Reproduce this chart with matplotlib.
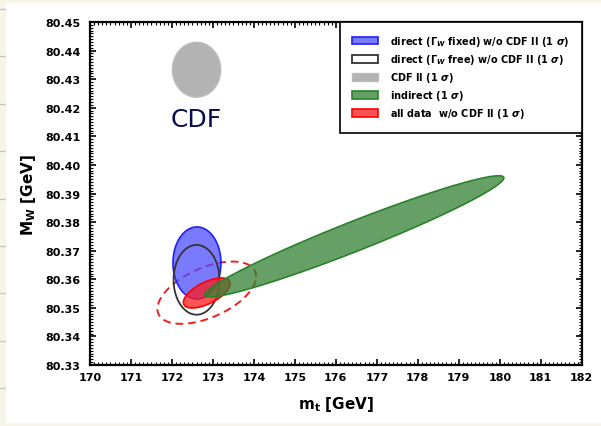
import numpy as np
import matplotlib
matplotlib.use("Agg")
import matplotlib.pyplot as plt
from matplotlib.patches import Patch, Rectangle

plt.rcParams["font.family"] = "DejaVu Sans"
plt.rcParams["font.weight"] = "bold"
plt.rcParams["mathtext.fontset"] = "custom"
plt.rcParams["mathtext.rm"] = "DejaVu Sans:bold"
plt.rcParams["mathtext.it"] = "DejaVu Sans:bold:italic"
plt.rcParams["mathtext.bf"] = "DejaVu Sans:bold"

# 1 sigma regions: (mt centre, mt sigma, MW centre, MW sigma, correlation)
labels = [
    r"direct ($\Gamma_W$ fixed) w/o CDF II (1 $\sigma$)",
    r"direct ($\Gamma_W$ free) w/o CDF II (1 $\sigma$)",
    r"CDF II (1 $\sigma$)",
    r"indirect (1 $\sigma$)",
    r"all data  w/o CDF II (1 $\sigma$)",
]
mt_center = [172.61, 172.60, 172.60, 176.45, 172.85]
mt_sigma = [0.585, 0.56, 0.59, 3.65, 0.57]
mw_center = [80.3657, 80.3598, 80.4333, 80.3750, 80.3552]
mw_sigma = [0.0126, 0.0122, 0.0096, 0.0212, 0.00525]
corr = [0.0, 0.0, 0.0, 0.965, 0.62]

# the wider dashed red region (all data, larger CL)
dash_mt, dash_mt_sig = 172.85, 1.205
dash_mw, dash_mw_sig = 80.3553, 0.0109
dash_corr = 0.52


def ellipse(cx, sx, cy, sy, rho, n=300):
    t = np.linspace(0, 2 * np.pi, n)
    x = cx + sx * np.cos(t)
    y = cy + sy * (rho * np.cos(t) + np.sqrt(1 - rho ** 2) * np.sin(t))
    return x, y


fig = plt.figure(figsize=(6.01, 4.27), dpi=100, facecolor="#f7f5e8")
# white sheet with notebook lines at the left edge
fig.patches.append(Rectangle((6 / 601, 3 / 427), 595 / 601, 420 / 427,
                             transform=fig.transFigure, facecolor="white",
                             edgecolor="none", zorder=-10))
for yy in [10, 57, 105, 152, 200, 247, 294, 342, 389]:
    fig.lines.append(plt.Line2D([0, 6 / 601], [1 - yy / 427, 1 - yy / 427],
                                transform=fig.transFigure, color="#c9c9c9",
                                lw=1, zorder=-10))

ax = fig.add_axes([90 / 601, 1 - 366 / 427, 491.7 / 601, 343 / 427])

styles = [
    dict(facecolor=(0.3, 0.3, 1.0, 0.75), edgecolor="#2020ff", lw=1.2, zorder=2),
    dict(facecolor="none", edgecolor="#333333", lw=1.3, zorder=3),
    dict(facecolor="#b3b3b3", edgecolor="#bdbdbd", lw=1.0, zorder=3),
    dict(facecolor=(0.2, 0.5, 0.2, 0.75), edgecolor="#2a822a", lw=1.2, zorder=5),
    dict(facecolor=(1.0, 0.1, 0.1, 0.75), edgecolor="#ff0000", lw=1.2, zorder=4),
]

x, y = ellipse(dash_mt, dash_mt_sig, dash_mw, dash_mw_sig, dash_corr)
ax.plot(x, y, color="#ee2020", lw=1.4, ls=(0, (4, 2.5)), zorder=1)

for i in range(len(labels)):
    x, y = ellipse(mt_center[i], mt_sigma[i], mw_center[i], mw_sigma[i], corr[i])
    ax.fill(x, y, **styles[i])

ax.text(172.6, 80.4162, "CDF", color="#0b0b4a", fontsize=18, fontweight="normal",
        ha="center", va="center")

ax.set_xlim(170, 182)
ax.set_ylim(80.33, 80.45)
ax.set_xticks(np.arange(170, 183, 1))
ax.set_yticks(np.arange(80.33, 80.4501, 0.01))
ax.set_yticklabels(["%.2f" % v for v in np.arange(80.33, 80.4501, 0.01)])
ax.set_xticks(np.arange(170, 182.01, 0.1), minor=True)
ax.set_yticks(np.arange(80.33, 80.4501, 0.001), minor=True)
ax.tick_params(which="both", direction="in", top=True, right=True, labelsize=8)
ax.tick_params(which="major", length=4, width=1.2)
ax.tick_params(which="minor", length=2, width=0.8)
ax.tick_params(axis="x", pad=5)
ax.tick_params(axis="y", pad=7)
for s in ax.spines.values():
    s.set_linewidth(1.6)

ax.set_xlabel(r"m$_\mathregular{t}$ [GeV]", fontsize=11, fontweight="bold", labelpad=9)
ax.set_ylabel(r"M$_\mathregular{W}$ [GeV]", fontsize=11, fontweight="bold", labelpad=5)

handles = [Patch(**{k: v for k, v in st.items() if k != "zorder"}) for st in styles]
leg = ax.legend(handles, labels, loc="upper right", fontsize=7, frameon=True,
                fancybox=False, edgecolor="black", framealpha=1,
                borderaxespad=0, handlelength=2.6, handleheight=0.8,
                handletextpad=1.3, labelspacing=0.42, borderpad=1.25)
leg.get_frame().set_linewidth(1.2)
leg.set_zorder(10)

fig.savefig("out.png", dpi=100, facecolor=fig.get_facecolor())
